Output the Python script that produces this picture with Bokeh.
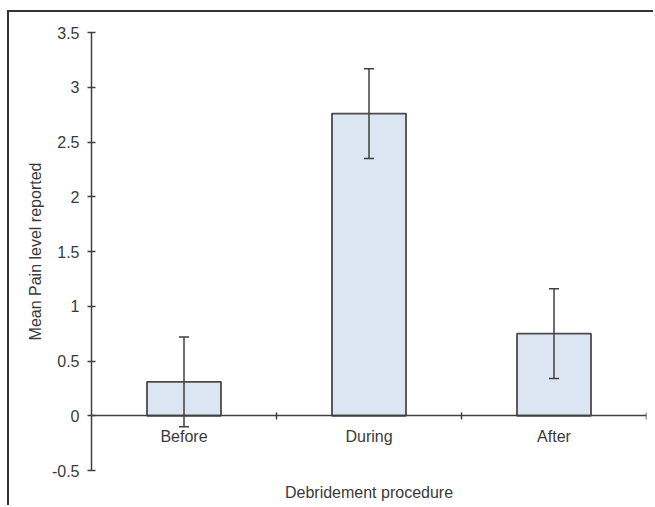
from bokeh.plotting import figure
from bokeh.models import (ColumnDataSource, Range1d, FixedTicker, LinearAxis,
                          Whisker, TeeHead)
from bokeh.embed import file_html
from bokeh.resources import INLINE

# ---- data ----
categories = ["Before", "During", "After"]
means = [0.31, 2.76, 0.75]
errors = [0.41, 0.41, 0.41]
y_ticks = [-0.5, 0, 0.5, 1, 1.5, 2, 2.5, 3, 3.5]
y_tick_labels = ["-0.5", "0", "0.5", "1", "1.5", "2", "2.5", "3", "3.5"]
x_label = "Debridement procedure"
y_label = "Mean Pain level reported"

FONT = "Liberation Sans"
TXT = "#3a3a3a"
LINE = "#404040"

xs = [i + 0.5 for i in range(len(categories))]
source = ColumnDataSource(dict(
    x=xs, top=means,
    upper=[m + e for m, e in zip(means, errors)],
    lower=[m - e for m, e in zip(means, errors)],
))

p = figure(width=646, height=495, output_backend="svg", toolbar_location=None,
           x_range=Range1d(0, len(categories)), y_range=Range1d(y_ticks[0], y_ticks[-1]),
           x_axis_type=None, y_axis_type=None,
           min_border_left=82, min_border_right=9, min_border_top=20, min_border_bottom=37)
p.outline_line_color = None
p.background_fill_color = "white"
p.border_fill_color = "white"
p.margin = (10, 0, 0, 7)
p.styles = {"border-top": "2px solid #333333", "border-left": "2px solid #333333"}

# y axis
yax = LinearAxis(ticker=FixedTicker(ticks=y_ticks),
                 major_label_overrides={t: l for t, l in zip(y_ticks, y_tick_labels)})
yax.axis_label = y_label
yax.axis_label_text_font = FONT
yax.axis_label_text_font_size = "16px"
yax.axis_label_text_font_style = "normal"
yax.axis_label_text_color = TXT
yax.axis_label_standoff = 5
yax.major_label_text_font = FONT
yax.major_label_text_font_size = "16px"
yax.major_label_text_color = TXT
yax.major_label_standoff = 8
yax.major_tick_in = 4
yax.major_tick_out = 4
yax.minor_tick_line_color = None
yax.axis_line_color = LINE
yax.axis_line_width = 1.5
yax.major_tick_line_color = LINE
yax.major_tick_line_width = 1.5
p.add_layout(yax, "left")

# x axis drawn at y = 0 (ticks and category labels)
xax = LinearAxis(ticker=FixedTicker(ticks=xs, minor_ticks=list(range(1, len(categories) + 1))),
                 major_label_overrides={x: c for x, c in zip(xs, categories)},
                 fixed_location=0)
xax.major_label_text_font = FONT
xax.major_label_text_font_size = "16px"
xax.major_label_text_color = TXT
xax.major_label_standoff = 8
xax.major_tick_in = 0
xax.major_tick_out = 0
xax.minor_tick_in = 3
xax.minor_tick_out = 4
xax.minor_tick_line_color = LINE
xax.minor_tick_line_width = 1.5
xax.axis_line_color = LINE
xax.axis_line_width = 1.5
p.add_layout(xax, "below")

# axis carrying only the x-axis title, below the frame
xtitle = LinearAxis(ticker=FixedTicker(ticks=[]))
xtitle.axis_label = x_label
xtitle.axis_label_text_font = FONT
xtitle.axis_label_text_font_size = "16px"
xtitle.axis_label_text_font_style = "normal"
xtitle.axis_label_text_color = TXT
xtitle.axis_label_standoff = 13
xtitle.axis_line_color = None
xtitle.major_tick_line_color = None
xtitle.minor_tick_line_color = None
xtitle.major_tick_out = 0
xtitle.major_tick_in = 0
xtitle.major_label_standoff = 0
p.add_layout(xtitle, "below")

p.xgrid.visible = False
p.ygrid.visible = False

p.vbar(x="x", top="top", bottom=0, width=0.4, source=source,
       fill_color="#dce6f2", line_color="#4a4a4a", line_width=1.8)

w = Whisker(base="x", upper="upper", lower="lower", source=source,
            line_color=LINE, line_width=1.5, level="overlay",
            upper_head=TeeHead(size=10, line_color=LINE, line_width=1.5),
            lower_head=TeeHead(size=10, line_color=LINE, line_width=1.5))
p.add_layout(w)

open("out.html", "w").write(file_html(p, INLINE))
